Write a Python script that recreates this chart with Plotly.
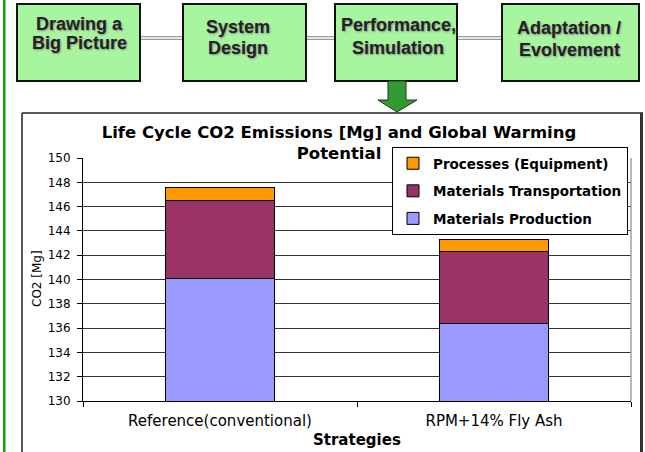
import plotly.graph_objects as go

W, H = 645, 452

# ---- data ----
strategies = ["Reference(conventional)", "RPM+14% Fly Ash"]
materials_production = [140.1, 136.4]
materials_transportation = [6.4, 5.9]
processes_equipment = [1.1, 1.0]

series_names = ["Materials Production", "Materials Transportation", "Processes (Equipment)"]
series_values = [materials_production, materials_transportation, processes_equipment]
series_colors = ["#9999FF", "#993366", "#FF9900"]
legend_ranks = [3, 2, 1]

steps = [["Drawing a", "Big Picture"], ["System", "Design"],
         ["Performance,", "Simulation"], ["Adaptation /", "Evolvement"]]

y_ticks = list(range(130, 151, 2))


def X(px):
    return px / W


def Y(py):
    return 1 - py / H


fig = go.Figure()
for name, vals, col, rk in zip(series_names, series_values, series_colors, legend_ranks):
    fig.add_trace(go.Bar(
        x=strategies, y=vals, name=name, legendgroup=name, legendrank=rk,
        marker=dict(color=col, line=dict(color="#000000", width=1)),
    ))

shapes = []
annotations = []

# left green bar
shapes.append(dict(type="rect", xref="paper", yref="paper",
                   x0=X(3), x1=X(5.5), y0=Y(0), y1=Y(H),
                   fillcolor="#11A011", line=dict(width=0), layer="above"))

# connecting double lines between boxes
boxes = [(17, 140), (183, 306), (335, 457), (502, 639)]
for (a0, a1), (b0, b1) in zip(boxes[:-1], boxes[1:]):
    shapes.append(dict(type="rect", xref="paper", yref="paper",
                       x0=X(a1), x1=X(b0), y0=Y(36.5), y1=Y(39.5),
                       fillcolor="#E6E6E6", line=dict(color="#9A9A9A", width=1)))

# step boxes
text_pos = [(79, 24, 43), (238, 27, 48), (398, 25, 48), (569, 28, 50)]
for (x0, x1), lines, (cx, ly1, ly2) in zip(boxes, steps, text_pos):
    shapes.append(dict(type="rect", xref="paper", yref="paper",
                       x0=X(x0), x1=X(x1), y0=Y(4), y1=Y(81),
                       fillcolor="#A8F5A0", line=dict(color="#111111", width=2)))
    for txt, ly in zip(lines, (ly1, ly2)):
        annotations.append(dict(
            text=txt, xref="paper", yref="paper", x=X(cx), y=Y(ly),
            xanchor="center", yanchor="middle", showarrow=False,
            font=dict(family="Liberation Sans", size=18, color="#222222",
                      weight="bold", shadow="1px 1px 2px #8a8a8a")))

# down arrow
ax = [388, 406, 406, 417, 397, 378, 388, 388]
ay = [81, 81, 100, 100, 112, 100, 100, 81]
path = "M " + " L ".join(f"{X(a):.5f},{Y(b):.5f}" for a, b in zip(ax, ay)) + " Z"
shapes.append(dict(type="path", xref="paper", yref="paper", path=path,
                   fillcolor="#339933", line=dict(color="#1a3a1a", width=1)))

# chart frame (left, top, right)
shapes.append(dict(type="line", xref="paper", yref="paper",
                   x0=X(22), x1=X(22), y0=Y(113), y1=Y(H + 5),
                   line=dict(color="#222222", width=1.5)))
shapes.append(dict(type="line", xref="paper", yref="paper",
                   x0=X(22), x1=X(643), y0=Y(113), y1=Y(113),
                   line=dict(color="#222222", width=1.5)))
shapes.append(dict(type="line", xref="paper", yref="paper",
                   x0=X(641.5), x1=X(641.5), y0=Y(113), y1=Y(H + 5),
                   line=dict(color="#333333", width=3)))
# plot-area right edge (gray)
shapes.append(dict(type="line", xref="paper", yref="paper",
                   x0=X(631), x1=X(631), y0=Y(158), y1=Y(401),
                   line=dict(color="#A0A0A0", width=1.5)))

# axis titles
annotations.append(dict(text="CO2 [Mg]", xref="paper", yref="paper",
                        x=X(37), y=Y(279), textangle=-90, showarrow=False,
                        xanchor="center", yanchor="middle",
                        font=dict(family="DejaVu Sans", size=12, color="#000000")))
annotations.append(dict(text="Strategies", xref="paper", yref="paper",
                        x=X(357), y=Y(440), showarrow=False,
                        xanchor="center", yanchor="middle",
                        font=dict(family="DejaVu Sans", size=15, color="#000000",
                                  weight="bold")))

fig.update_layout(
    width=W, height=H,
    margin=dict(l=0, r=0, t=0, b=0, pad=0, autoexpand=False),
    paper_bgcolor="#FFFFFF", plot_bgcolor="#FFFFFF",
    barmode="stack", bargap=0.6,
    title=dict(text="Life Cycle CO2 Emissions [Mg] and Global Warming<br>Potential",
               xref="paper", x=X(339), xanchor="center",
               yref="container", y=Y(138), yanchor="middle",
               font=dict(family="DejaVu Sans", size=16.5, color="#000000",
                         weight="bold")),
    legend=dict(x=X(392), y=Y(147), xanchor="left", yanchor="top",
                traceorder="grouped", tracegroupgap=7,
                bgcolor="#FFFFFF", bordercolor="#000000", borderwidth=1,
                font=dict(family="DejaVu Sans", size=13.5, color="#000000",
                          weight="bold")),
    xaxis=dict(domain=[X(83), X(631)], showline=True, linecolor="#000000",
               linewidth=1, ticks="outside", tickson="boundaries", ticklen=5,
               tickcolor="#000000", showgrid=False, ticklabelstandoff=6,
               automargin=False,
               tickfont=dict(family="DejaVu Sans", size=15, color="#000000")),
    yaxis=dict(domain=[Y(401), Y(158)], range=[130, 150], tickvals=y_ticks,
               showline=True, linecolor="#000000", linewidth=1,
               ticks="outside", ticklen=5, tickcolor="#000000",
               showgrid=True, gridcolor="#333333", gridwidth=1,
               zeroline=False, ticklabelstandoff=4, automargin=False,
               tickfont=dict(family="DejaVu Sans", size=12, color="#000000")),
    shapes=shapes, annotations=annotations,
    showlegend=True,
)

fig.write_html(
    "out.html",
    config={"displayModeBar": False},
    post_script=("document.documentElement.style.margin='0';"
                 "document.body.style.margin='0';"
                 "document.body.style.overflow='hidden';"),
)
